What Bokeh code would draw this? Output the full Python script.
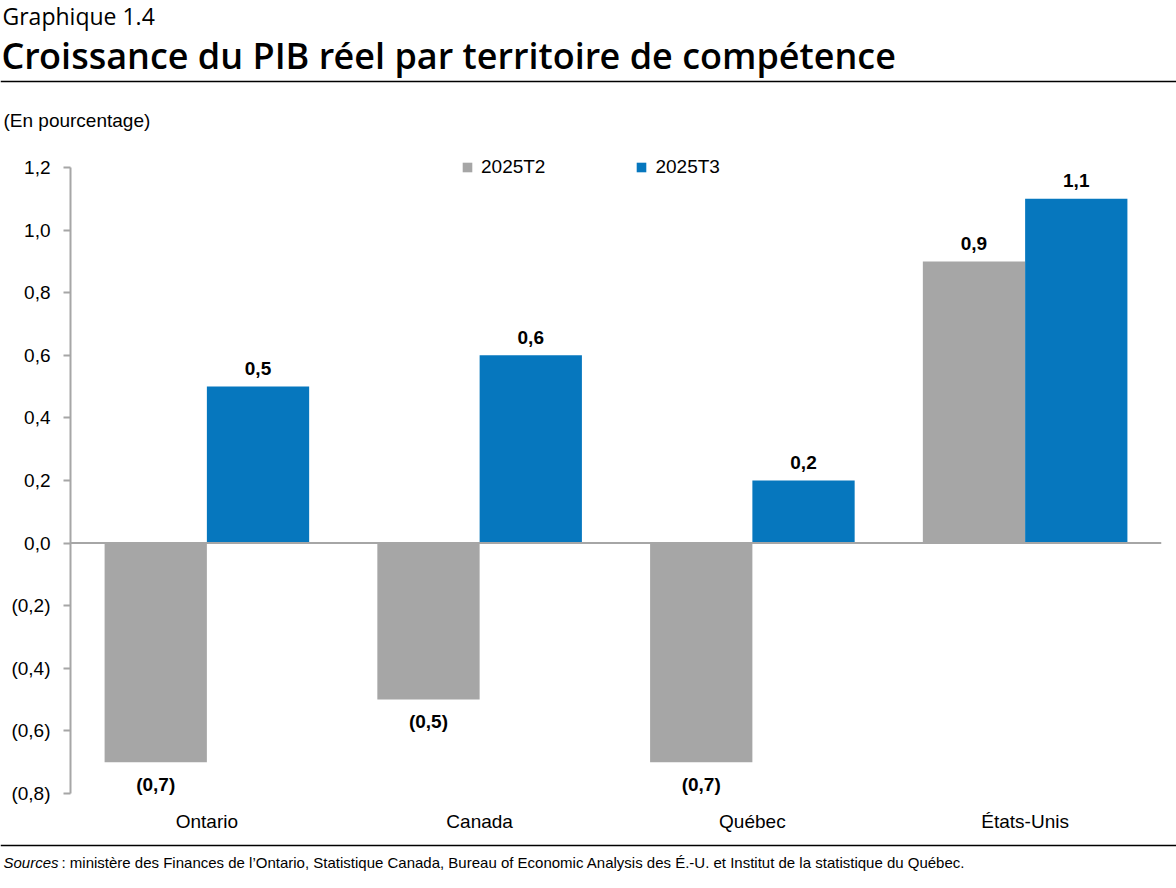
from bokeh.plotting import figure
from bokeh.models import (ColumnDataSource, FactorRange, Range1d, FixedTicker,
                          CustomJSTickFormatter, Span, Legend, LegendItem, LabelSet)
from bokeh.transform import dodge
from bokeh.layouts import column
from bokeh.core.properties import value
from bokeh.embed import file_html
from bokeh.resources import INLINE

# ---------------- data ----------------
SUPTITLE = "Graphique 1.4"
TITLE = "Croissance du PIB réel par territoire de compétence"
UNIT = "(En pourcentage)"
CATEGORIES = ["Ontario", "Canada", "Québec", "États-Unis"]
SERIES = ["2025T2", "2025T3"]
T2 = [-0.7, -0.5, -0.7, 0.9]
T3 = [0.5, 0.6, 0.2, 1.1]
Y_TICKS = [-0.8, -0.6, -0.4, -0.2, 0.0, 0.2, 0.4, 0.6, 0.8, 1.0, 1.2]
SOURCE_LEAD = "Sources"
SOURCE_TEXT = (" : ministère des Finances de l\u2019Ontario, Statistique Canada, "
               "Bureau of Economic Analysis des É.-U. et Institut de la statistique du Québec.")

# ---------------- styles ----------------
GRAY = "#A6A6A6"
BLUE = "#0677BE"
AXIS_GRAY = "#A6A6A6"
ARIAL = "Liberation Sans"
TITLE_FONT = "Open Sans"
TITLE_FONT_MEDIUM = "Open Sans SemiBold, Open Sans"
W = 1176
PX_PER_UNIT = 313.0          # vertical scale of the value axis
Y_MIN, Y_MAX = Y_TICKS[0], Y_TICKS[-1]


def fmt(v):
    s = f"{abs(v):.1f}".replace(".", ",")
    return f"({s})" if v < 0 else s


def bare(fig):
    fig.grid.visible = False
    fig.outline_line_color = None
    fig.background_fill_color = None
    fig.border_fill_color = "white"
    if "frame_align" in fig.properties():
        fig.frame_align = False


# ---------------- header ----------------
HDR_H = 140
hdr = figure(width=W, height=HDR_H, x_range=Range1d(0, W), y_range=Range1d(HDR_H, 0),
             toolbar_location=None, output_backend="svg", min_border=0,
             x_axis_location=None, y_axis_location=None)
bare(hdr)
hdr.text(x=[2], y=[15], text=[SUPTITLE], text_font=value(TITLE_FONT), text_font_size="23px",
         text_baseline="alphabetic", text_align="left", text_color="black")
hdr.text(x=[1], y=[55], text=[TITLE], text_font=value(TITLE_FONT_MEDIUM), text_font_size="36px",
         text_baseline="alphabetic", text_align="left", text_color="black")
hdr.text(x=[3], y=[120], text=[UNIT], text_font=value(ARIAL), text_font_size="19px",
         text_baseline="alphabetic", text_align="left", text_color="black")
hdr.add_layout(Span(location=81, dimension="width", line_color="black", line_width=1.5))

# ---------------- main chart ----------------
src = ColumnDataSource(dict(
    cat=CATEGORIES, t2=T2, t3=T3,
    t2_lbl=[fmt(v) for v in T2], t3_lbl=[fmt(v) for v in T3],
    t2_off=[18 if v >= 0 else -22 for v in T2], t3_off=[18 if v >= 0 else -22 for v in T3],
))

MAIN_H = 698
TOP_PAD, BOT_PAD = 27, 7     # px of frame above 1,2 and below (0,8)
p = figure(width=W, height=MAIN_H, x_range=FactorRange(*CATEGORIES, range_padding=0),
           y_range=Range1d(Y_MIN - BOT_PAD / PX_PER_UNIT, Y_MAX + TOP_PAD / PX_PER_UNIT),
           toolbar_location=None, output_backend="svg",
           min_border_left=70, min_border_right=15, min_border_top=0, min_border_bottom=38)
bare(p)

off = 0.1875
r2 = p.vbar(x=dodge("cat", -off, range=p.x_range), top="t2", bottom=0, width=0.375,
            fill_color=GRAY, line_color=None, source=src)
r3 = p.vbar(x=dodge("cat", off, range=p.x_range), top="t3", bottom=0, width=0.375,
            fill_color=BLUE, line_color=None, source=src)

p.add_layout(Span(location=0, dimension="width", line_color=AXIS_GRAY, line_width=2))

for col, sh in (("t2", -off), ("t3", off)):
    p.add_layout(LabelSet(x=dodge("cat", sh, range=p.x_range), y=col, text=col + "_lbl",
                          y_offset=col + "_off", source=src, text_align="center",
                          text_baseline="middle", text_font=value(ARIAL),
                          text_font_size="19px", text_font_style="bold", text_color="black"))

p.yaxis.ticker = FixedTicker(ticks=Y_TICKS)
p.yaxis.bounds = (Y_MIN, Y_MAX)
p.yaxis.formatter = CustomJSTickFormatter(code="""
    const s = Math.abs(tick).toFixed(1).replace('.', ',');
    return tick < -1e-9 ? '(' + s + ')' : s;
""")
p.yaxis.axis_line_color = AXIS_GRAY
p.yaxis.axis_line_width = 2
p.yaxis.major_tick_line_color = AXIS_GRAY
p.yaxis.major_tick_line_width = 2
p.yaxis.major_tick_in = 0
p.yaxis.major_tick_out = 7
p.yaxis.minor_tick_line_color = None
p.yaxis.major_label_standoff = 13
p.yaxis.major_label_text_font = ARIAL
p.yaxis.major_label_text_font_size = "19px"
p.yaxis.major_label_text_color = "black"

p.xaxis.axis_line_color = None
p.xaxis.major_tick_line_color = None
p.xaxis.minor_tick_line_color = None
p.xaxis.major_tick_out = 0
p.xaxis.major_tick_in = 0
p.xaxis.major_label_standoff = 10
p.xaxis.major_label_text_font = ARIAL
p.xaxis.major_label_text_font_size = "19px"
p.xaxis.major_label_text_color = "black"

legend = Legend(items=[LegendItem(label=SERIES[0], renderers=[r2]),
                       LegendItem(label=SERIES[1], renderers=[r3])],
                orientation="horizontal", location=(391, 622),
                glyph_width=12, glyph_height=12, label_standoff=8, spacing=90,
                padding=0, margin=0, border_line_color=None, background_fill_alpha=0,
                label_text_font=ARIAL, label_text_font_size="19px", label_text_color="black")
p.add_layout(legend)

# ---------------- footer ----------------
FTR_H = 48
ftr = figure(width=W, height=FTR_H, x_range=Range1d(0, W), y_range=Range1d(FTR_H, 0),
             toolbar_location=None, output_backend="svg", min_border=0,
             x_axis_location=None, y_axis_location=None)
bare(ftr)
ftr.add_layout(Span(location=7, dimension="width", line_color="black", line_width=1.5))
ftr.text(x=[3], y=[24], text=[SOURCE_LEAD], text_font=value(ARIAL), text_font_size="15px",
         text_font_style="italic", text_baseline="alphabetic", text_align="left", text_color="black")
ftr.text(x=[61], y=[24], text=[SOURCE_TEXT], text_font=value(ARIAL), text_font_size="15px",
         text_baseline="alphabetic", text_align="left", text_color="black")

layout = column(hdr, p, ftr, spacing=0)
open("out.html", "w").write(file_html(layout, INLINE))
